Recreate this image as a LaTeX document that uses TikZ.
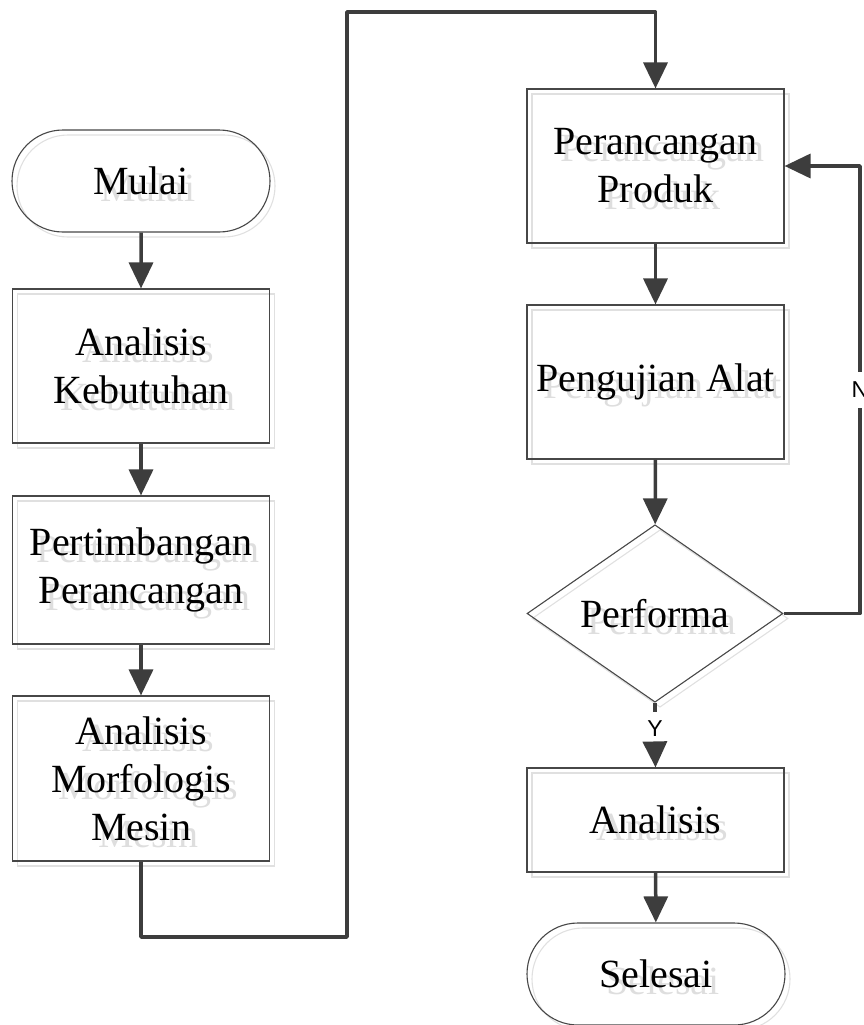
\documentclass[tikz,border=0pt]{standalone}
\usepackage{fontspec}
\setmainfont{Liberation Serif}
\newfontfamily\lblfont{Liberation Sans}
\usetikzlibrary{shapes.misc,shapes.geometric,arrows.meta,shadows,calc}
\tikzset{
  common/.style={inner sep=0pt, align=center, font=\fontsize{40}{48}\selectfont, line width=1.1pt},
  termshape/.style={common, rounded rectangle, minimum width=258pt, minimum height=102pt},
  procshape/.style={common, rectangle, minimum width=257pt},
  decshape/.style={common, diamond, minimum width=256pt, minimum height=153pt},
  shd/.style={draw=black!72, copy shadow={shadow xshift=5pt, shadow yshift=-5pt, draw=black!12, fill=none, line width=1.1pt}},
  txtshadow/.style={draw=none, text=black!13},
  conn/.style={draw=black!76, line width=3.5pt, line join=round, -{Triangle[width=24pt,length=26pt]}},
  plain/.style={draw=black!76, line width=3.5pt, line join=round},
  lbl/.style={inner sep=0pt, font=\lblfont\fontsize{23}{24}\selectfont, text=black, minimum height=33pt, minimum width=18pt}
}
\newcommand\fcnode[4]{%
  \node[#2, txtshadow] (#1-sh) at ($(#3)+(7,7)$) {#4};
  \node[#2, shd] (#1) at (#3) {#4};}
\begin{document}
\begin{tikzpicture}[x=1pt, y=-1pt]
\useasboundingbox (0,0) rectangle (864,1025);
% left column
\fcnode{mulai}{termshape}{141,181}{Mulai}
\fcnode{ak}{procshape, minimum height=154pt}{141,366}{Analisis\\Kebutuhan}
\fcnode{pp}{procshape, minimum height=148pt}{141,570}{Pertimbangan\\Perancangan}
\fcnode{am}{procshape, minimum height=165pt}{141,778.5}{Analisis\\Morfologis\\Mesin}
% right column
\fcnode{pr}{procshape, minimum height=154pt}{655.5,166}{Perancangan\\Produk}
\fcnode{pa}{procshape, minimum height=154pt}{655.5,382}{Pengujian Alat}
\fcnode{perf}{decshape}{655,613.5}{Performa}
\fcnode{an}{procshape, minimum height=104pt}{655.5,820}{Analisis}
\fcnode{sel}{termshape}{656,974}{Selesai}
% labels
\node[lbl] (ylbl) at (655,729) {Y};
\node[lbl, minimum height=36pt] (nlbl) at (860,390) {N};
% turning points
\coordinate (b1) at (141,937);
\coordinate (b2) at (347,937);
\coordinate (t1) at (347,12);
\coordinate (t2) at (655.5,12);
\coordinate (n1) at (860,613.5);
\coordinate (n2) at (860,166);
% connectors
\draw[conn] (mulai) -- (ak);
\draw[conn] (ak) -- (pp);
\draw[conn] (pp) -- (am);
\draw[conn] (am.south) -- (b1) -- (b2) -- (t1) -- (t2) -- (pr.north);
\draw[conn] (pr) -- (pa);
\draw[conn] (pa) -- (perf);
\draw[plain] (perf.south) -- (ylbl.north);
\draw[conn] (ylbl.south) -- (an.north);
\draw[plain] (perf.east) -- (n1) -- (nlbl.south);
\draw[conn] (nlbl.north) -- (n2) -- (pr.east);
\draw[conn] (an) -- (sel);
\end{tikzpicture}
\end{document}
